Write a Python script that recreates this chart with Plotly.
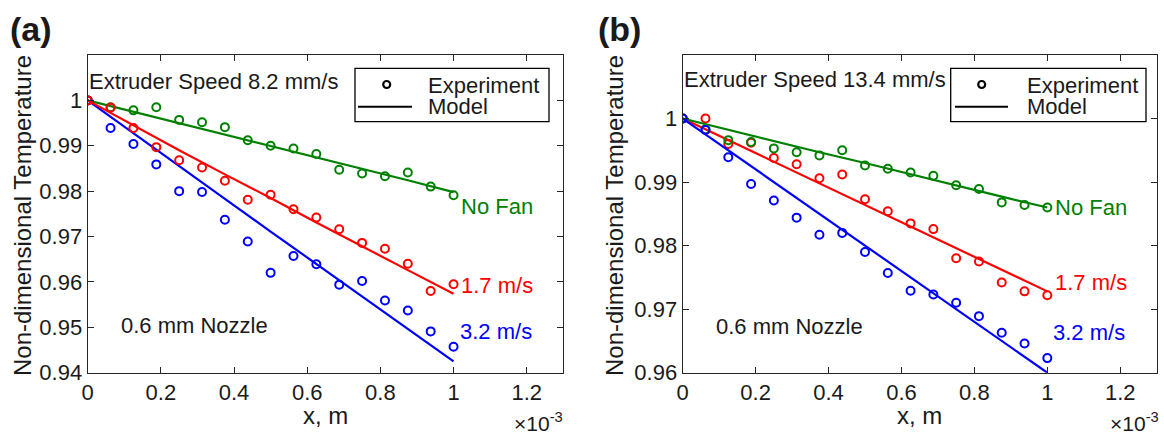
import plotly.graph_objects as go

# ---------------- data ----------------
# axial position of the measurement stations, m
x_exp = [0.0, 6.25e-5, 1.25e-4, 1.875e-4, 2.5e-4, 3.125e-4, 3.75e-4, 4.375e-4, 5.0e-4,
         5.625e-4, 6.25e-4, 6.875e-4, 7.5e-4, 8.125e-4, 8.75e-4, 9.375e-4, 1.0e-3]
# model evaluation points, m
x_model = [0.0, 1.25e-4, 2.5e-4, 3.75e-4, 5.0e-4, 6.25e-4, 7.5e-4, 8.75e-4, 1.0e-3]

# (a) extruder speed 8.2 mm/s
a_exp_nofan = [1.000, 0.9985, 0.9978, 0.9985, 0.9957, 0.9952, 0.9941, 0.9912, 0.9900,
               0.9894, 0.9882, 0.9847, 0.9839, 0.9833, 0.9841, 0.9810, 0.9791]
a_exp_17 = [1.000, 0.9984, 0.9939, 0.9897, 0.9868, 0.9852, 0.9823, 0.9781, 0.9792,
            0.9760, 0.9742, 0.9716, 0.9686, 0.9673, 0.9640, 0.9580, 0.9595]
a_exp_32 = [1.000, 0.9939, 0.9904, 0.9859, 0.9800, 0.9798, 0.9737, 0.9689, 0.9620,
            0.9657, 0.9639, 0.9594, 0.9602, 0.9559, 0.9537, 0.9491, 0.9457]
a_mod_nofan = [1.000, 0.9975, 0.9950, 0.9925, 0.9900, 0.9875, 0.9850, 0.9824, 0.9798]
a_mod_17 = [1.000, 0.9945, 0.9890, 0.9837, 0.9785, 0.9731, 0.9678, 0.9626, 0.9574]
a_mod_32 = [1.000, 0.9927, 0.9855, 0.9783, 0.9711, 0.9640, 0.9568, 0.9497, 0.9425]

# (b) extruder speed 13.4 mm/s
b_exp_nofan = [1.000, 0.9983, 0.9966, 0.9963, 0.9953, 0.9947, 0.9942, 0.9950, 0.9926,
               0.9921, 0.9915, 0.9910, 0.9895, 0.9889, 0.9868, 0.9864, 0.9860]
b_exp_17 = [1.000, 1.000, 0.9960, 0.9962, 0.9938, 0.9928, 0.9906, 0.9912, 0.9873,
            0.9854, 0.9835, 0.9826, 0.9780, 0.9775, 0.9742, 0.9728, 0.9722]
b_exp_32 = [1.000, 0.9982, 0.9939, 0.9897, 0.9871, 0.9844, 0.9817, 0.9820, 0.9790,
            0.9757, 0.9729, 0.9723, 0.9710, 0.9689, 0.9663, 0.9646, 0.9623]
b_mod_nofan = [1.000, 0.9982, 0.9965, 0.9947, 0.9930, 0.9912, 0.9895, 0.9877, 0.9860]
b_mod_17 = [1.000, 0.9966, 0.9932, 0.9898, 0.9864, 0.9830, 0.9796, 0.9762, 0.9728]
b_mod_32 = [1.000, 0.9950, 0.9900, 0.9850, 0.9800, 0.9750, 0.9700, 0.9650, 0.9600]

x_tick_vals = [0.0, 2e-4, 4e-4, 6e-4, 8e-4, 1e-3, 1.2e-3]
x_tick_text = ["0", "0.2", "0.4", "0.6", "0.8", "1", "1.2"]
a_y_ticks = [0.94, 0.95, 0.96, 0.97, 0.98, 0.99, 1.0]
a_y_text = ["0.94", "0.95", "0.96", "0.97", "0.98", "0.99", "1"]
b_y_ticks = [0.96, 0.97, 0.98, 0.99, 1.0]
b_y_text = ["0.96", "0.97", "0.98", "0.99", "1"]

# ---------------- styling ----------------
W, H = 1164, 437
FONT = "Liberation Sans, Arial, sans-serif"
FS = 22          # ticks and in-plot text
FS_LABEL = 24    # axis titles
INK = "#1a1a1a"
AX = "#262626"
GREEN, RED, BLUE = "rgb(0,128,0)", "rgb(255,0,0)", "rgb(0,0,255)"
X_RANGE = [0, 1.3e-3]


def px(xp):
    return xp / W


def py(yp):
    return 1 - yp / H


fig = go.Figure()


def add_series(xa, ya, xe, ye, xm, ym, color):
    fig.add_trace(go.Scatter(x=xm, y=ym, mode="lines", xaxis=xa, yaxis=ya,
                             line=dict(color=color, width=2.2), showlegend=False,
                             hoverinfo="skip"))
    fig.add_trace(go.Scatter(x=xe, y=ye, mode="markers", xaxis=xa, yaxis=ya,
                             marker=dict(symbol="circle-open", size=8, color=color,
                                         line=dict(width=2)),
                             showlegend=False))


# panel (a): red drawn last so it sits on top
add_series("x", "y", x_exp, a_exp_nofan, x_model, a_mod_nofan, GREEN)
add_series("x", "y", x_exp, a_exp_32, x_model, a_mod_32, BLUE)
add_series("x", "y", x_exp, a_exp_17, x_model, a_mod_17, RED)
# panel (b): blue drawn last
add_series("x2", "y2", x_exp, b_exp_17, x_model, b_mod_17, RED)
add_series("x2", "y2", x_exp, b_exp_nofan, x_model, b_mod_nofan, GREEN)
add_series("x2", "y2", x_exp, b_exp_32, x_model, b_mod_32, BLUE)

axis_common = dict(showgrid=False, zeroline=False, showline=True, linecolor=AX,
                   linewidth=1.3, mirror="ticks", ticks="inside", ticklen=6,
                   tickwidth=1.2, tickcolor=AX, automargin=False,
                   tickfont=dict(family=FONT, size=FS, color=INK))

fig.update_layout(
    width=W, height=H,
    margin=dict(l=0, r=0, t=0, b=0, pad=0),
    paper_bgcolor="white", plot_bgcolor="white",
    showlegend=False,
    font=dict(family=FONT, size=FS, color=INK),
    xaxis=dict(domain=[px(87.7), px(563.3)], range=X_RANGE, anchor="y",
               tickvals=x_tick_vals, ticktext=x_tick_text, **axis_common),
    yaxis=dict(domain=[py(372.7), py(55)], range=[0.94, 1.01], anchor="x",
               tickvals=a_y_ticks, ticktext=a_y_text, **axis_common),
    xaxis2=dict(domain=[px(682.7), px(1156.7)], range=X_RANGE, anchor="y2",
                tickvals=x_tick_vals, ticktext=x_tick_text, **axis_common),
    yaxis2=dict(domain=[py(372.7), py(55)], range=[0.96, 1.01], anchor="x2",
                tickvals=b_y_ticks, ticktext=b_y_text, **axis_common),
)

ann = []


def text(x, y, s, xref="paper", yref="paper", color=INK, size=FS, xanchor="left",
         yanchor="middle", angle=0, bold=False):
    ann.append(dict(x=x, y=y, xref=xref, yref=yref, text=f"<b>{s}</b>" if bold else s,
                    showarrow=False, xanchor=xanchor, yanchor=yanchor, textangle=angle,
                    borderpad=0, font=dict(family=FONT, size=size, color=color)))


# panel letters
text(px(31), py(29), "(a)", xanchor="center", size=34, bold=True)
text(px(619), py(29), "(b)", xanchor="center", size=34, bold=True)

# axis titles
for xc, yc_title in ((px(325.5), px(23)), (px(919.7), px(615))):
    text(xc, py(415), "x, m", xanchor="center", size=FS_LABEL)
    text(yc_title, py(216), "Non-dimensional Temperature", xanchor="center",
         angle=-90, size=FS_LABEL)
# axis multiplier under the right end of each x axis
text(px(564), py(436), "×10<sup>-3</sup>", xanchor="right", yanchor="bottom", size=21)
text(px(1160), py(436), "×10<sup>-3</sup>", xanchor="right", yanchor="bottom", size=21)

# in-plot labels, panel (a)
text(0.0, 1.00427, "Extruder Speed 8.2 mm/s", "x", "y")
text(0.088e-3, 0.9504, "0.6 mm Nozzle", "x", "y")
text(1.018e-3, 0.9767, "No Fan", "x", "y", GREEN)
text(1.018e-3, 0.9593, "1.7 m/s", "x", "y", RED)
text(1.014e-3, 0.9490, "3.2 m/s", "x", "y", BLUE)
# in-plot labels, panel (b)
text(0.0, 1.0061, "Extruder Speed 13.4 mm/s", "x2", "y2")
text(0.089e-3, 0.9673, "0.6 mm Nozzle", "x2", "y2")
text(1.018e-3, 0.9860, "No Fan", "x2", "y2", GREEN)
text(1.018e-3, 0.9742, "1.7 m/s", "x2", "y2", RED)
text(1.014e-3, 0.96625, "3.2 m/s", "x2", "y2", BLUE)

# legend boxes (Experiment / Model)
shapes = []
for bx0, bx1, mx, lx0, lx1, tx in ((355, 549, 386.7, 358, 412, 427),
                                   (950.7, 1146, 981.7, 955, 1008, 1025.7)):
    shapes.append(dict(type="rect", xref="paper", yref="paper", x0=px(bx0), x1=px(bx1),
                       y0=py(121.7), y1=py(68.3), line=dict(color="black", width=1.3),
                       fillcolor="white", layer="below"))
    shapes.append(dict(type="circle", xref="paper", yref="paper", xsizemode="pixel",
                       ysizemode="pixel", xanchor=px(mx), yanchor=py(84.5), x0=-3.5,
                       x1=3.5, y0=-3.5, y1=3.5, line=dict(color="black", width=2.2)))
    shapes.append(dict(type="line", xref="paper", yref="paper", x0=px(lx0), x1=px(lx1),
                       y0=py(106.7), y1=py(106.7), line=dict(color="black", width=2)))
    text(px(tx), py(85), "Experiment")
    text(px(tx), py(106.7), "Model")

fig.update_layout(annotations=ann, shapes=shapes)
fig.write_html("out.html")
